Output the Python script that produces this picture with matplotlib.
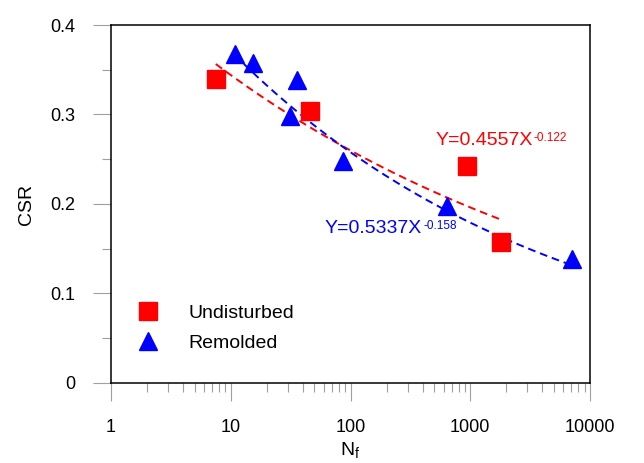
import numpy as np
import matplotlib.pyplot as plt
from matplotlib.ticker import MultipleLocator, LogLocator, NullFormatter, FixedLocator, FixedFormatter

plt.rcParams['font.family'] = ['Liberation Sans', 'DejaVu Sans']
plt.rcParams['mathtext.fontset'] = 'custom'
plt.rcParams['mathtext.rm'] = 'Liberation Sans'
plt.rcParams['mathtext.it'] = 'Liberation Sans'

# Data
und_n = [7.5, 46, 930, 1800]
und_csr = [0.340, 0.304, 0.242, 0.158]
rem_n = [10.8, 15.3, 31.4, 36, 86, 636, 7100]
rem_csr = [0.368, 0.358, 0.298, 0.338, 0.248, 0.198, 0.138]

# power fits Y = a X^b
und_fit = (0.4557, -0.122)
rem_fit = (0.5337, -0.158)

xticks = [1, 10, 100, 1000, 10000]
xticklabels = ["1", "10", "100", "1000", "10000"]

fig = plt.figure(figsize=(6.44, 4.63), dpi=100)
ax = fig.add_axes([0.1724, 0.1728, 0.7438, 0.7732])

# fit lines
xu = np.logspace(np.log10(min(und_n)), np.log10(max(und_n)), 100)
ax.plot(xu, und_fit[0] * xu ** und_fit[1], color="#ff0000", ls=(0, (4, 2.5)), lw=1.4)
xr = np.logspace(np.log10(min(rem_n)), np.log10(max(rem_n)), 100)
ax.plot(xr, rem_fit[0] * xr ** rem_fit[1], color="#0000ff", ls=(0, (4, 2.5)), lw=1.4)

ax.plot(und_n, und_csr, "s", color="#ff0000", ms=12.5, mec="#ff0000", label="Undisturbed")
ax.plot(rem_n, rem_csr, "^", color="#0000ff", ms=12.5, mec="#0000ff", label="Remolded")

# equations (superscript drawn as a separate small text)
t1 = ax.text(508, 0.266, "Y=%.4fX" % und_fit[0], color="#ff0000", fontsize=14, va="baseline")
ax.annotate("%.3f" % und_fit[1], xy=(1, 0), xycoords=t1, xytext=(1, 3.6),
            textcoords="offset points", color="#ff0000", fontsize=8.5, va="bottom")
t2 = ax.text(61, 0.1673, "Y=%.4fX" % rem_fit[0], color="#0000ff", fontsize=14, va="baseline")
ax.annotate("%.3f" % rem_fit[1], xy=(1, 0), xycoords=t2, xytext=(1, 3.6),
            textcoords="offset points", color="#0000ff", fontsize=8.5, va="bottom")

ax.set_xscale("log")
ax.set_xlim(1, 10000)
ax.set_ylim(0, 0.4)
ax.xaxis.set_major_locator(FixedLocator(xticks))
ax.xaxis.set_major_formatter(FixedFormatter(xticklabels))
ax.xaxis.set_minor_locator(LogLocator(base=10, subs=np.arange(2, 10)))
ax.xaxis.set_minor_formatter(NullFormatter())
ax.yaxis.set_minor_locator(MultipleLocator(0.05))
ax.set_yticks([0, 0.1, 0.2, 0.3, 0.4])
ax.set_yticklabels(["0", "0.1", "0.2", "0.3", "0.4"])

ax.tick_params(which="major", direction="out", length=13, width=0.8, color="#a0a0a0",
               labelsize=13, pad=13)
ax.tick_params(which="minor", direction="out", length=6.5, width=0.8, color="#a0a0a0")
for s in ax.spines.values():
    s.set_linewidth(1.1)
    s.set_color("black")

ax.set_xlabel(r"N$_{\mathrm{f}}$", fontsize=14, labelpad=3)
ax.set_ylabel("CSR", fontsize=14, labelpad=11)

ax.legend(loc="lower left", bbox_to_anchor=(0.0, 0.01), frameon=False, fontsize=14,
          handlelength=1.0, handletextpad=1.56, labelspacing=0.64, borderaxespad=1.0,
          numpoints=1)

fig.savefig("out.png", dpi=100)
